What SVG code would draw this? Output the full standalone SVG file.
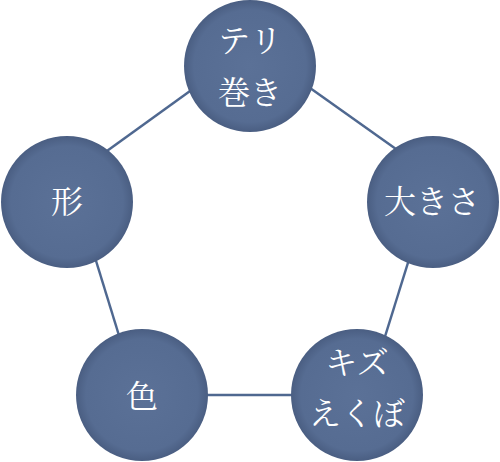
<svg xmlns="http://www.w3.org/2000/svg" width="500" height="462" viewBox="0 0 500 462">
<defs>
<radialGradient id="g" cx="50%" cy="50%" r="50%">
<stop offset="0" stop-color="#5b7197"/>
<stop offset="0.85" stop-color="#566c92"/>
<stop offset="1" stop-color="#4a5e82"/>
</radialGradient>
<style>
.c{fill:url(#g);}
.t{fill:#ffffff;font-family:"Noto Serif CJK JP","Noto Sans CJK JP",serif;font-size:32px;text-anchor:middle;}
.l{stroke:#4f6890;stroke-width:2.5;fill:none;}
</style>
</defs>
<rect width="500" height="462" fill="#ffffff"/>
<g id="connectors">
<line class="l" x1="197" y1="86" x2="100" y2="156"/>
<line class="l" x1="303" y1="83" x2="403" y2="154"/>
<line class="l" x1="93" y1="251" x2="121" y2="342"/>
<line class="l" x1="411" y1="253" x2="383" y2="343"/>
<line class="l" x1="200" y1="395" x2="300" y2="395"/>
</g>
<g id="node-teri">
<circle class="c" cx="250" cy="66" r="66"/>
<text class="t" x="250" y="52">テリ</text>
<text class="t" x="250" y="104">巻き</text>
</g>
<g id="node-katachi">
<circle class="c" cx="67" cy="202" r="66"/>
<text class="t" x="67" y="213">形</text>
</g>
<g id="node-ookisa">
<circle class="c" cx="433" cy="202" r="66"/>
<text class="t" x="432" y="213">大きさ</text>
</g>
<g id="node-iro">
<circle class="c" cx="142" cy="395" r="66"/>
<text class="t" x="142" y="408">色</text>
</g>
<g id="node-kizu">
<circle class="c" cx="357" cy="395" r="66"/>
<text class="t" x="357" y="374">キズ</text>
<text class="t" x="357" y="425">えくぼ</text>
</g>
</svg>
